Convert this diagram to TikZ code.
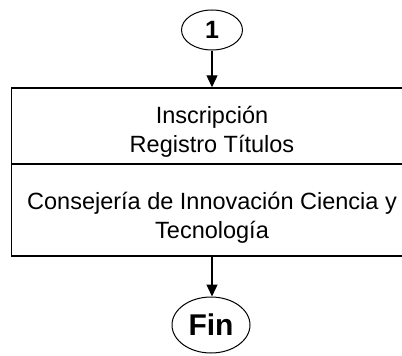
\documentclass[tikz,border=0pt]{standalone}
\usepackage{fontspec}
\setmainfont{Liberation Sans}
\usetikzlibrary{shapes.geometric,arrows.meta}
\begin{document}
\begin{tikzpicture}[x=1pt,y=-1pt,
  term/.style={ellipse,draw,line width=1pt,inner sep=0pt},
  part/.style={rectangle,draw,line width=1.5pt,minimum width=401pt,inner sep=0pt,align=center,font=\fontsize{23.5}{28.5}\selectfont},
  flow/.style={line width=1.4pt,-{Triangle[length=12pt,width=11pt]}}]
\useasboundingbox (0,0) rectangle (402,356);
\node[term,minimum width=61pt,minimum height=40pt,font=\bfseries\fontsize{25}{28}\selectfont] (s) at (212,30) {1};
\node[part,minimum height=76pt] (a) at (212,126) {\rule{0pt}{29.3pt}Inscripción\\Registro Títulos};
\node[part,minimum height=92pt] (b) at (212,210) {\rule{0pt}{33.3pt}Consejería de Innovación Ciencia y\\Tecnología};
\node[term,minimum width=78pt,minimum height=56pt,font=\bfseries\fontsize{30}{34}\selectfont] (f) at (211,325) {Fin};
\draw[flow] (s) -- (s |- a.north);
\draw[flow] (b.south -| s) -- (s |- f.north);
\end{tikzpicture}
\end{document}
